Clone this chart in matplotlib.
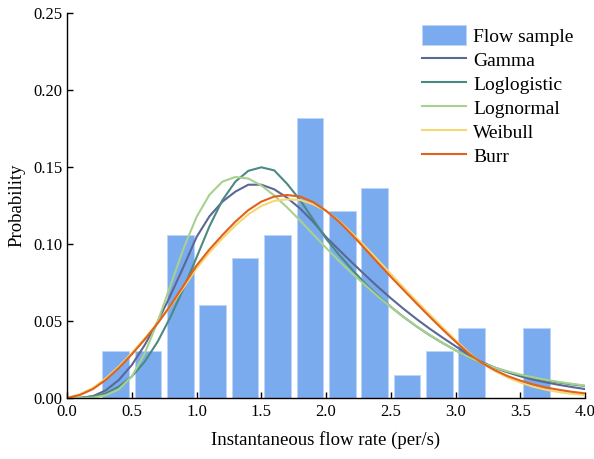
import matplotlib
matplotlib.use("Agg")
import matplotlib.pyplot as plt
import numpy as np

# Histogram (bin centres, probability)
bin_centers = [0.375, 0.625, 0.875, 1.125, 1.375, 1.625, 1.875, 2.125, 2.375, 2.625, 2.875, 3.125, 3.375, 3.625]
bin_probs = [0.0303, 0.0303, 0.1061, 0.0606, 0.0909, 0.1061, 0.1818, 0.1212, 0.1364, 0.0152, 0.0303, 0.0455, 0.0, 0.0455]

# Curve sample positions
x_curve = [round(0.1 * i, 1) for i in range(41)]

gamma = [0, 0.0001, 0.0012, 0.005, 0.0117, 0.0214, 0.0344, 0.0496, 0.0669, 0.0853,
         0.1045, 0.118, 0.1275, 0.134, 0.1385, 0.1385, 0.1355, 0.130, 0.123, 0.1145,
         0.1045, 0.0962, 0.088, 0.080, 0.0722, 0.0648, 0.0578, 0.0512, 0.045, 0.0392,
         0.0336, 0.0282, 0.0235, 0.0198, 0.0167, 0.0141, 0.0119, 0.0101, 0.0085, 0.0071, 0.0058]

loglogistic = [0, 0.0001, 0.001, 0.003, 0.0074, 0.0139, 0.0236, 0.0366, 0.0528, 0.0712,
               0.0912, 0.1115, 0.1285, 0.1405, 0.1475, 0.1498, 0.1478, 0.139, 0.1285, 0.116,
               0.1035, 0.093, 0.0835, 0.0745, 0.0665, 0.0592, 0.0525, 0.0464, 0.0408, 0.0357,
               0.031, 0.0265, 0.0228, 0.0197, 0.0171, 0.0149, 0.013, 0.0114, 0.010, 0.0088, 0.0078]

lognormal = [0, 0, 0.0002, 0.0018, 0.0056, 0.0139, 0.029, 0.0496, 0.0734, 0.0972,
             0.1175, 0.132, 0.1405, 0.1435, 0.1425, 0.138, 0.1315, 0.1237, 0.1152, 0.1063,
             0.0975, 0.089, 0.081, 0.0735, 0.066, 0.059, 0.0525, 0.0465, 0.041, 0.0358,
             0.031, 0.0265, 0.0228, 0.0198, 0.0173, 0.0152, 0.0134, 0.0118, 0.0104, 0.0092, 0.0081]

weibull = [0, 0.0025, 0.0066, 0.0127, 0.0204, 0.0292, 0.0387, 0.0488, 0.0597, 0.0717,
           0.0842, 0.0945, 0.1037, 0.112, 0.1193, 0.1247, 0.128, 0.129, 0.1286, 0.1258,
           0.1215, 0.115, 0.107, 0.0985, 0.0896, 0.0806, 0.0716, 0.0628, 0.0543, 0.0458,
           0.0376, 0.0296, 0.0229, 0.0177, 0.0134, 0.010, 0.0073, 0.0053, 0.0038, 0.0027, 0.0019]

burr = [0, 0.002, 0.0058, 0.0118, 0.0195, 0.0283, 0.038, 0.0485, 0.0602, 0.073,
        0.086, 0.0965, 0.1058, 0.1145, 0.122, 0.1275, 0.1308, 0.1318, 0.1308, 0.1272,
        0.1216, 0.1145, 0.106, 0.097, 0.0878, 0.0787, 0.070, 0.0613, 0.0528, 0.0445,
        0.0366, 0.029, 0.0229, 0.0182, 0.0143, 0.0113, 0.0088, 0.0068, 0.0053, 0.004, 0.003]

series = [
    ("Gamma", gamma, "#5b6794"),
    ("Loglogistic", loglogistic, "#4b8a82"),
    ("Lognormal", lognormal, "#a8d18f"),
    ("Weibull", weibull, "#f5d873"),
    ("Burr", burr, "#e0621b"),
]

x_ticks = [0.0, 0.5, 1.0, 1.5, 2.0, 2.5, 3.0, 3.5, 4.0]
y_ticks = [0.00, 0.05, 0.10, 0.15, 0.20, 0.25]

plt.rcParams['font.family'] = ['Liberation Serif', 'DejaVu Serif']

fig = plt.figure(figsize=(5.94, 4.59), dpi=100)
ax = fig.add_axes([0.1128, 0.1329, 0.8722, 0.8388])

bars = ax.bar(bin_centers, bin_probs, width=0.205, color="#7aabee", edgecolor="#bcd5f6",
              linewidth=0.6, label="Flow sample", zorder=1)
handles = [bars]
for name, vals, col in series:
    ln, = ax.plot(x_curve, vals, color=col, lw=1.5, label=name, zorder=2,
                  solid_joinstyle="round")
    handles.append(ln)

ax.set_xlim(0, 4.0)
ax.set_ylim(0, 0.25)
ax.set_xticks(x_ticks)
ax.set_xticklabels([f"{t:.1f}" for t in x_ticks])
ax.set_yticks(y_ticks)
ax.set_yticklabels([f"{t:.2f}" for t in y_ticks])
ax.tick_params(direction="in", length=4, width=1, labelsize=12)
ax.tick_params(axis="x", pad=4.5)
ax.tick_params(axis="y", pad=3.5)
for s in ("top", "right"):
    ax.spines[s].set_visible(False)
for s in ("left", "bottom"):
    ax.spines[s].set_linewidth(1.0)

ax.set_xlabel("Instantaneous flow rate (per/s)", fontsize=13.5, labelpad=8)
ax.set_ylabel("Probability", fontsize=13.5, labelpad=5)

leg = ax.legend(handles=handles, labels=[h.get_label() for h in handles],
                loc="upper right", bbox_to_anchor=(1.0, 0.998), frameon=False,
                fontsize=14, handlelength=2.3, handleheight=1.2, handletextpad=0.35,
                labelspacing=0.18, borderaxespad=0.2)

fig.savefig("out.png", dpi=100)
